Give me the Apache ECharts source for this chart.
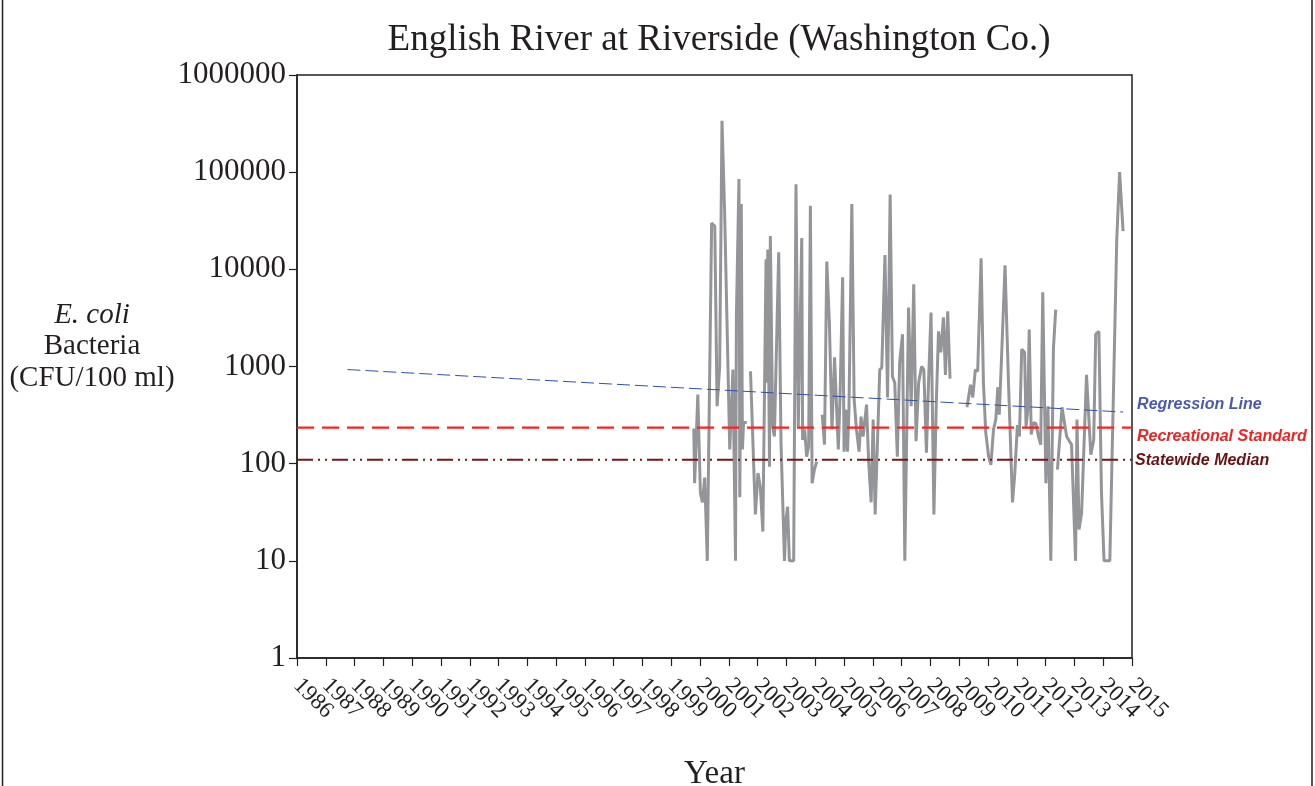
<!DOCTYPE html>
<html>
<head>
<meta charset="utf-8">
<script src="https://cdn.jsdelivr.net/npm/echarts@6/dist/echarts.min.js"></script>
<style>html,body{margin:0;padding:0;background:#fff;}#c{width:1315px;height:786px;}</style>
</head>
<body>
<div id="c"></div>
<script>
// Sample dates (decimal years) and E. coli values (CFU/100 ml); null = gap in record
const sampleYears = [1999.78,1999.81,1999.92,2000.01,2000.08,2000.16,2000.25,2000.40,2000.51,2000.59,2000.68,2000.76,2000.85,2001.03,2001.14,2001.23,2001.26,2001.35,2001.38,2001.43,2001.47,2001.51,2001.62,2001.68,
2001.75,2001.92,2002.01,2002.09,2002.18,2002.29,2002.32,2002.35,2002.41,2002.44,2002.52,2002.58,2002.73,2002.81,2002.93,2002.98,2003.04,2003.10,2003.25,2003.33,2003.41,2003.53,2003.56,2003.63,2003.70,2003.77,2003.83,2003.89,2003.97,2004.05,2004.15,
2004.24,2004.32,2004.40,2004.49,2004.58,2004.67,2004.80,2004.86,2004.95,2005.00,2005.06,2005.12,2005.17,2005.27,2005.35,2005.43,2005.52,2005.59,2005.66,2005.78,2005.85,2005.94,2006.01,2006.08,2006.24,2006.31,2006.42,2006.51,2006.60,2006.68,2006.76,2006.85,2006.93,2007.03,2007.11,2007.24,2007.33,2007.42,2007.50,2007.59,2007.69,2007.77,2007.86,2007.94,2008.02,2008.12,2008.20,2008.28,2008.36,2008.45,2008.52,2008.60,2008.68,2008.95,
2009.27,2009.39,2009.47,2009.56,2009.64,2009.76,2009.84,2009.92,2010.02,2010.10,2010.19,2010.27,2010.34,2010.39,2010.48,2010.59,2010.71,2010.85,2010.93,2011.02,2011.09,2011.17,2011.27,2011.32,2011.38,2011.43,2011.50,2011.58,2011.66,2011.75,2011.83,2011.90,2012.01,2012.08,2012.18,2012.27,2012.35,2012.38,
2012.41,2012.57,2012.73,2012.90,2013.04,2013.09,2013.16,2013.25,2013.42,2013.57,2013.67,2013.74,2013.85,2013.94,2014.03,2014.23,2014.47,2014.57,2014.69];
const ecoliValues = [230,63,514,50,40,72,10,30000,27800,390,1000,338000,41000,140,930,10,3300,85000,45,47000,140,265,265,null,
890,30,80,58,20,12700,680,16000,93,22000,240,190,15000,165,10,26,36,10,10,75000,240,21000,175,225,118,150,45000,63,87,105,null,
320,157,12000,2800,225,1240,140,490,8300,133,360,133,360,47000,455,225,133,305,190,405,110,40,285,30,930,970,14000,480,59000,790,680,118,1100,2150,10,4050,390,7000,170,680,1000,930,130,790,3600,30,390,2300,1400,3200,820,3700,750,null,
380,650,480,930,890,13000,680,210,118,97,225,285,610,320,1500,11000,680,40,80,250,190,1500,1400,240,360,2400,200,265,260,190,157,5800,63,390,10,1500,3850,null,
87,380,190,157,10,285,21,31,820,124,175,2150,2300,50,10,10,20000,100000,24700];

// Reference lines
const regressionYears = [1987.75, 2014.69];
const regressionValues = [930, 340];
const recreationalStandard = 235;
const statewideMedian = 110;
const lineSpanYears = [1986, 2015];

// Axis ticks
const yearMin = 1986, yearMax = 2015;
const yearTickLabels = ['1986','1987','1988','1989','1990','1991','1992','1993','1994','1995','1996','1997','1998','1999','2000','2001','2002','2003','2004','2005','2006','2007','2008','2009','2010','2011','2012','2013','2014','2015'];
const yMin = 1, yMax = 1000000;

const ecoliData = sampleYears.map((y, i) => [y, ecoliValues[i] === null ? null : ecoliValues[i]]);
const regData = regressionYears.map((y, i) => [y, regressionValues[i]]);
const recData = lineSpanYears.map(y => [y, recreationalStandard]);
const medData = lineSpanYears.map(y => [y, statewideMedian]);

const serif = '"Liberation Serif", "Times New Roman", serif';
const sans = '"Liberation Sans", Arial, sans-serif';
const ink = '#231f20';

const chart = echarts.init(document.getElementById('c'), null, {renderer: 'canvas'});
chart.setOption({
  animation: false,
  backgroundColor: '#ffffff',
  title: {
    text: 'English River at Riverside (Washington Co.)',
    left: 714, top: 17, textAlign: 'center',
    textStyle: {fontFamily: serif, fontSize: 37, fontWeight: 'normal', color: ink}
  },
  grid: {left: 297, right: 183, top: 75, bottom: 128, show: true, borderColor: ink, borderWidth: 1.5, backgroundColor: 'transparent', containLabel: false, outerBoundsMode: 'none'},
  xAxis: [
    {
      type: 'value', min: yearMin, max: yearMax, interval: 1, position: 'bottom',
      name: 'Year', nameLocation: 'middle', nameGap: 100,
      nameTextStyle: {fontFamily: serif, fontSize: 33, color: ink},
      axisLine: {show: true, lineStyle: {color: ink, width: 1.5}},
      axisTick: {show: false},
      splitLine: {show: false},
      axisLabel: {show: false}
    },
    {
      type: 'category', data: yearTickLabels, boundaryGap: false, position: 'bottom',
      axisLine: {show: false},
      axisTick: {show: true, inside: false, length: 8, interval: 0, lineStyle: {color: ink, width: 1.2}},
      splitLine: {show: false},
      axisLabel: {interval: 0, rotate: -45, margin: 24, fontFamily: serif, fontSize: 23, color: ink}
    }
  ],
  yAxis: {
    type: 'log', logBase: 10, min: yMin, max: yMax,
    axisLine: {show: true, lineStyle: {color: ink, width: 1.5}},
    axisTick: {show: true, inside: false, length: 8, lineStyle: {color: ink, width: 1.2}},
    minorTick: {show: false},
    splitLine: {show: false},
    axisLabel: {margin: 11, fontFamily: serif, fontSize: 31, color: ink, showMinLabel: true, showMaxLabel: true, formatter: v => String(Math.round(v))}
  },
  graphic: [
    {type: 'rect', shape: {x: 2.5, y: -10, width: 1309.5, height: 820}, style: {fill: 'none', stroke: ink, lineWidth: 1.5}, silent: true},
    {type: 'text', x: 92, y: 315, style: {text: 'E. coli', font: 'italic 29px ' + serif, fill: ink, align: 'center', verticalAlign: 'middle'}},
    {type: 'text', x: 92, y: 346, style: {text: 'Bacteria', font: '29px ' + serif, fill: ink, align: 'center', verticalAlign: 'middle'}},
    {type: 'text', x: 92, y: 378, style: {text: '(CFU/100 ml)', font: '29px ' + serif, fill: ink, align: 'center', verticalAlign: 'middle'}}
  ],
  series: [
    {
      name: 'E. coli', type: 'line', xAxisIndex: 0, data: ecoliData, showSymbol: false, connectNulls: false,
      lineStyle: {color: '#939598', width: 3}, z: 3
    },
    {
      name: 'Regression Line', type: 'line', xAxisIndex: 0, data: regData, showSymbol: false,
      lineStyle: {color: '#3050a8', width: 1, type: [13, 5]}, z: 4,
      endLabel: {show: true, formatter: 'Regression Line', offset: [6, -7], color: '#4a5aae', fontFamily: sans, fontStyle: 'italic', fontWeight: 'bold', fontSize: 16}
    },
    {
      name: 'Recreational Standard', type: 'line', xAxisIndex: 0, data: recData, showSymbol: false,
      lineStyle: {color: '#ff2020', width: 2.2, type: [17, 8]}, z: 4,
      endLabel: {show: true, formatter: 'Recreational Standard', offset: [-3, 9], color: '#ee2424', fontFamily: sans, fontStyle: 'italic', fontWeight: 'bold', fontSize: 16}
    },
    {
      name: 'Statewide Median', type: 'line', xAxisIndex: 0, data: medData, showSymbol: false,
      lineStyle: {color: '#7a1418', width: 2, type: [16, 5, 2, 5, 2, 5]}, z: 4,
      endLabel: {show: true, formatter: 'Statewide Median', offset: [-5, 1], color: '#6b1114', fontFamily: sans, fontStyle: 'italic', fontWeight: 'bold', fontSize: 16}
    }
  ]
});
</script>
</body>
</html>
